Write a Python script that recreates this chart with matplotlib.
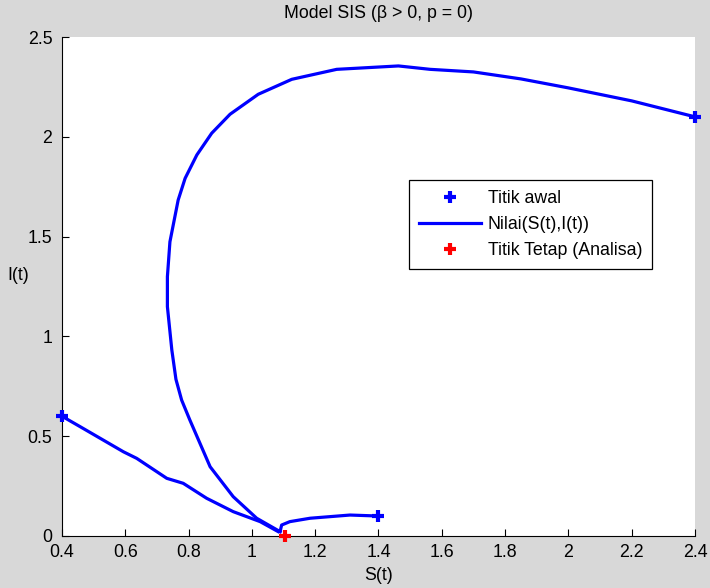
import matplotlib
matplotlib.use("Agg")
import matplotlib.pyplot as plt
from matplotlib.lines import Line2D

plt.rcParams['font.family'] = ['Liberation Sans', 'DejaVu Sans']

# Trajectory 1: start (2.4, 2.1)
s1 = [2.4, 2.2, 2.0, 1.85, 1.7, 1.563, 1.463, 1.268, 1.126, 1.020, 0.931, 0.873, 0.826,
      0.789, 0.767, 0.741, 0.733, 0.733, 0.747, 0.760, 0.778, 0.804, 0.836, 0.868,
      0.941, 1.015, 1.089]
i1 = [2.1, 2.18, 2.245, 2.29, 2.325, 2.338, 2.355, 2.338, 2.288, 2.213, 2.113, 2.018, 1.909,
      1.792, 1.683, 1.474, 1.299, 1.149, 0.932, 0.785, 0.681, 0.581, 0.464, 0.347,
      0.197, 0.089, 0.022]
# Trajectory 2: start (0.4, 0.6)
s2 = [0.4, 0.457, 0.594, 0.636, 0.731, 0.783, 0.857, 0.941, 1.026, 1.083]
i2 = [0.6, 0.548, 0.422, 0.389, 0.289, 0.264, 0.189, 0.122, 0.072, 0.022]
# Trajectory 3: start (1.4, 0.1)
s3 = [1.4, 1.31, 1.247, 1.184, 1.120, 1.094, 1.089]
i3 = [0.1, 0.105, 0.097, 0.089, 0.072, 0.055, 0.022]

start_s = [2.4, 0.4, 1.4]
start_i = [2.1, 0.6, 0.1]
fixed_s = [1.105]
fixed_i = [0.0]

labels = ['Titik awal', 'Nilai(S(t),I(t))', 'Titik Tetap (Analisa)']

fs = 12.8
bg = '#d8d8d8'
fig = plt.figure(figsize=(7.1, 5.88), dpi=100, facecolor=bg)
ax = fig.add_axes([62/710, 1-536/588, (695-62)/710, (536-37)/588])
ax.set_facecolor('white')

blue = '#0000ff'
red = '#ff0000'
for s, i in [(s1, i1), (s2, i2), (s3, i3)]:
    ax.plot(s, i, color=blue, lw=2.3, zorder=2)
ax.plot(start_s, start_i, ls='none', marker='+', color=blue, ms=8, mew=3, zorder=3, clip_on=False)
ax.plot(fixed_s, fixed_i, ls='none', marker='+', color=red, ms=8, mew=3, zorder=3, clip_on=False)

ax.set_xlim(0.4, 2.4)
ax.set_ylim(0, 2.5)
ax.set_xticks([0.4, 0.6, 0.8, 1.0, 1.2, 1.4, 1.6, 1.8, 2.0, 2.2, 2.4])
ax.set_xticklabels(['0.4', '0.6', '0.8', '1', '1.2', '1.4', '1.6', '1.8', '2', '2.2', '2.4'])
ax.set_yticks([0, 0.5, 1, 1.5, 2, 2.5])
ax.set_yticklabels(['0', '0.5', '1', '1.5', '2', '2.5'])
ax.tick_params(direction='in', length=5, width=0.8, labelsize=fs, colors='black')
ax.tick_params(axis='x', pad=6)
ax.tick_params(axis='y', pad=7)
ax.spines['top'].set_visible(False)
ax.spines['right'].set_visible(False)
for sp in ['left', 'bottom']:
    ax.spines[sp].set_linewidth(0.8)

ax.set_title('Model SIS (\u03b2 > 0, p = 0)', fontsize=fs, pad=14)
ax.set_xlabel('S(t)', fontsize=fs)
ax.xaxis.set_label_coords(0.5, -(575 - 536) / 499, transform=ax.transAxes)
ax.xaxis.label.set_va('center')
ax.set_ylabel('I(t)', fontsize=fs, rotation=0, va='center', ha='center')
ax.yaxis.set_label_coords(-(62 - 18) / 633, (536 - 275) / 499)

handles = [
    Line2D([], [], ls='none', marker='+', color=blue, ms=8, mew=3),
    Line2D([], [], color=blue, lw=2.3),
    Line2D([], [], ls='none', marker='+', color=red, ms=8, mew=3),
]
leg = ax.legend(handles, labels, loc='upper left', bbox_to_anchor=(0.548, 0.713),
                fontsize=fs, frameon=True, fancybox=False, edgecolor='black',
                framealpha=1, handlelength=3.5, borderpad=0.55, labelspacing=0.5,
                handletextpad=0.4, borderaxespad=0)
leg.get_frame().set_linewidth(0.9)

fig.savefig('out.png', dpi=100, facecolor=bg)
